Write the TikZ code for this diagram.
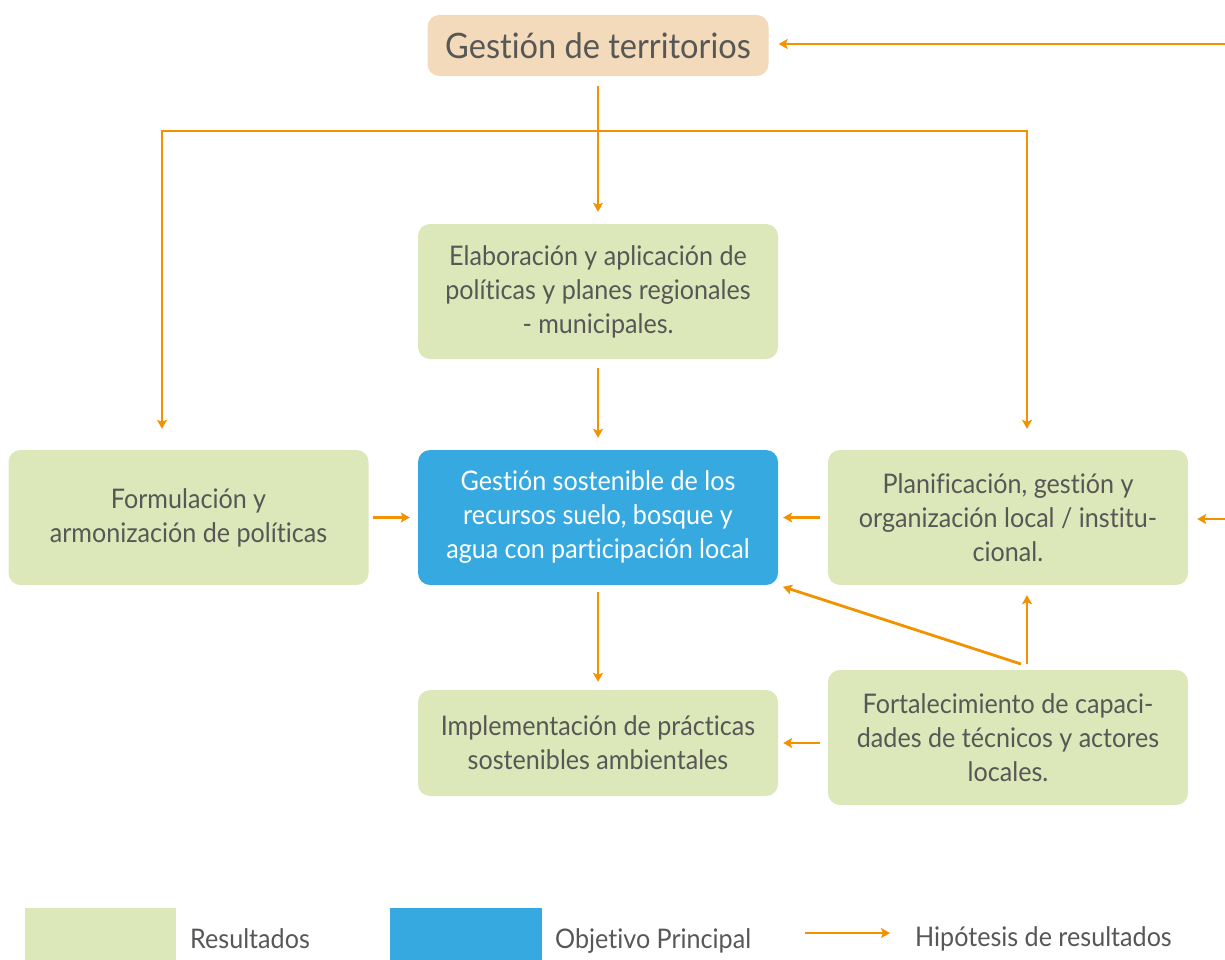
\documentclass[tikz,border=0pt]{standalone}
\usepackage{fontspec}
\setmainfont[FakeStretch=0.93,Ligatures=NoCommon]{Lato}
\usetikzlibrary{arrows.meta}
\usetikzlibrary{positioning}
\definecolor{verde}{HTML}{DCE8B9}
\definecolor{azul}{HTML}{36A9E0}
\definecolor{arena}{HTML}{F2DABA}
\definecolor{naranja}{HTML}{F39200}
\definecolor{texto}{HTML}{575756}

\begin{document}
\begin{tikzpicture}[x=1pt,y=-1pt,
  caja/.style={rounded corners=12pt, align=center, text=texto, inner sep=0pt, font=\fontsize{27}{34}\selectfont},
  res/.style={caja, fill=verde, minimum width=360pt, minimum height=135pt},
  flecha/.style={naranja, line width=2.8pt, -{Stealth[length=9pt,width=10pt,inset=2pt]}},
  ley/.style={text=texto, inner sep=0pt, font=\fontsize{27}{30}\selectfont}]
\useasboundingbox (0,0) rectangle (1225,960);

\node[caja, fill=arena, minimum width=341pt, minimum height=61pt, font=\fontsize{35}{40}\selectfont] (terr) at (598,45.5) {Gestión de territorios};
\node[res] (elab) at (598,291.5) {Elaboración y aplicación de\\políticas y planes regionales\\- municipales.};
\node[res] (form) at (188.5,517.5) {Formulación y\\armonización de políticas};
\node[res, fill=azul, text=white] (obj) at (598,517.5) {Gestión sostenible de los\\recursos suelo, bosque y\\agua con participación local};
\node[res] (plan) at (1008,517.5) {Planificación, gestión y\\organización local / institu-\\cional.};
\node[res, minimum height=106pt] (impl) at (598,743) {Implementación de prácticas\\sostenibles ambientales};
\node[res] (fort) at (1008,737.5) {Fortalecimiento de capaci-\\dades de técnicos y actores\\locales.};

\coordinate (entA) at (1225,44);
\coordinate (entB) at (1225,519);
\coordinate (cruce) at (598,131);
\coordinate (izq) at (162,131);
\coordinate (der) at (1027,131);
\coordinate (base) at (1027,664);

\draw[flecha, shorten >=10pt] (entA) -- (terr.east |- entA);
\draw[flecha, shorten <=10pt, shorten >=12pt] (terr) -- (elab);
\draw[flecha, shorten >=21pt] (cruce) -- (izq) -- (izq |- form.north);
\draw[flecha, shorten >=21pt] (cruce) -- (der) -- (der |- plan.north);
\draw[flecha, shorten <=9pt, shorten >=12pt] (elab) -- (obj);
\draw[flecha, shorten <=4pt, shorten >=8pt] (form) -- (obj);
\draw[flecha, shorten <=8pt, shorten >=5pt] (plan) -- (obj);
\draw[flecha, shorten >=9pt] (entB) -- (plan.east |- entB);
\draw[flecha, shorten <=7pt, shorten >=8pt] (obj) -- (impl);
\draw[flecha, shorten <=8pt, shorten >=5pt] (fort.west |- impl) -- (impl.east);
\draw[flecha, shorten >=10pt] (base) -- (base |- plan.south);
\draw[flecha, shorten >=5pt] ([xshift=-6pt]base) -- (obj.south east);

\node[fill=verde, minimum width=151pt, minimum height=52pt, inner sep=0pt] (leyRes) at (100.5,934) {};
\node[ley, anchor=base west] (txtRes) at (190,948) {Resultados};
\node[fill=azul, minimum width=152pt, minimum height=52pt, inner sep=0pt] (leyObj) at (466,934) {};
\node[ley, anchor=base west] (txtObj) at (555,948) {Objetivo Principal};
\coordinate (leyA) at (805,933);
\coordinate (leyB) at (890,933);
\draw[flecha] (leyA) -- (leyB);
\node[ley, anchor=base west] (txtHip) at (915,946) {Hipótesis de resultados};
\end{tikzpicture}
\end{document}
